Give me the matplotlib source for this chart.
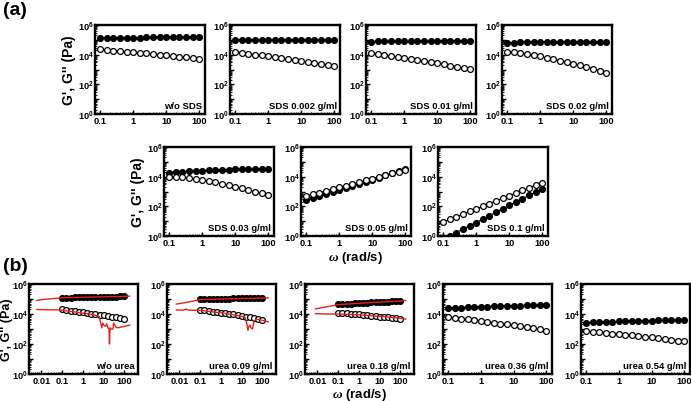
import numpy as np
import matplotlib
matplotlib.use('Agg')
import matplotlib.pyplot as plt
from matplotlib.ticker import LogLocator, NullFormatter, FixedLocator, FixedFormatter

plt.rcParams['font.family'] = ['Liberation Sans', 'DejaVu Sans']
plt.rcParams['font.weight'] = 'bold'
plt.rcParams['mathtext.fontset'] = 'custom'
plt.rcParams['mathtext.rm'] = 'Liberation Sans:bold'
plt.rcParams['mathtext.bf'] = 'Liberation Sans:bold'
plt.rcParams['mathtext.it'] = 'Liberation Serif:italic'

# frequency sweep (rad/s)
omega = [0.1, 0.158, 0.251, 0.398, 0.631, 1.0, 1.58, 2.51, 3.98, 6.31,
         10.0, 15.8, 25.1, 39.8, 63.1, 100.0]

# (a) SDS series
sds_labels = ['w/o SDS', 'SDS 0.002 g/ml', 'SDS 0.01 g/ml', 'SDS 0.02 g/ml',
              'SDS 0.03 g/ml', 'SDS 0.05 g/ml', 'SDS 0.1 g/ml']
sds_gp = [
    [1.30e5, 1.32e5, 1.34e5, 1.36e5, 1.38e5, 1.40e5, 1.42e5, 1.44e5, 1.46e5, 1.48e5, 1.50e5, 1.52e5, 1.54e5, 1.56e5, 1.58e5, 1.60e5],
    [9.5e4, 9.7e4, 9.8e4, 9.9e4, 1.0e5, 1.0e5, 1.01e5, 1.01e5, 1.02e5, 1.02e5, 1.03e5, 1.03e5, 1.04e5, 1.04e5, 1.05e5, 1.05e5],
    [7.6e4, 7.8e4, 7.9e4, 8.0e4, 8.0e4, 8.1e4, 8.1e4, 8.2e4, 8.2e4, 8.2e4, 8.3e4, 8.3e4, 8.3e4, 8.4e4, 8.4e4, 8.4e4],
    [5.8e4, 6.6e4, 6.8e4, 6.9e4, 7.0e4, 7.1e4, 7.2e4, 7.2e4, 7.3e4, 7.3e4, 7.4e4, 7.4e4, 7.5e4, 7.5e4, 7.6e4, 7.6e4],
    [1.9e4, 2.1e4, 2.2e4, 2.35e4, 2.5e4, 2.6e4, 2.7e4, 2.8e4, 2.9e4, 3.0e4, 3.1e4, 3.15e4, 3.2e4, 3.3e4, 3.35e4, 3.4e4],
    [2.5e2, 3.5e2, 4.8e2, 6.6e2, 9.1e2, 1.26e3, 1.74e3, 2.4e3, 3.3e3, 4.6e3, 6.3e3, 8.7e3, 1.2e4, 1.66e4, 2.3e4, 3.2e4],
    [0.59, 1.0, 1.7, 2.9, 4.9, 8.1, 13.8, 23, 40, 68, 115, 195, 324, 550, 933, 1585],
]
sds_gpp = [
    [2.3e4, 2.1e4, 1.9e4, 1.75e4, 1.6e4, 1.45e4, 1.3e4, 1.2e4, 1.08e4, 9.8e3, 8.9e3, 8.0e3, 7.2e3, 6.5e3, 5.9e3, 5.4e3],
    [1.6e4, 1.38e4, 1.18e4, 1.02e4, 8.8e3, 7.6e3, 6.5e3, 5.6e3, 4.8e3, 4.1e3, 3.5e3, 3.0e3, 2.6e3, 2.25e3, 1.95e3, 1.7e3],
    [1.3e4, 1.1e4, 9.4e3, 8.0e3, 6.8e3, 5.8e3, 4.9e3, 4.2e3, 3.55e3, 3.0e3, 2.55e3, 2.2e3, 1.85e3, 1.55e3, 1.3e3, 1.1e3],
    [1.6e4, 1.45e4, 1.28e4, 1.1e4, 9.2e3, 7.6e3, 6.2e3, 5.0e3, 4.0e3, 3.2e3, 2.5e3, 1.95e3, 1.5e3, 1.15e3, 8.5e2, 6.0e2],
    [1.0e4, 9.5e3, 8.8e3, 8.0e3, 7.0e3, 6.0e3, 5.0e3, 4.1e3, 3.3e3, 2.7e3, 2.1e3, 1.7e3, 1.3e3, 1.0e3, 7.5e2, 5.5e2],
    [5.0e2, 6.6e2, 8.5e2, 1.12e3, 1.48e3, 1.9e3, 2.5e3, 3.3e3, 4.3e3, 5.6e3, 7.4e3, 9.5e3, 1.26e4, 1.66e4, 2.1e4, 2.8e4],
    [8.9, 13.5, 20, 30, 46, 69, 102, 155, 234, 347, 525, 794, 1175, 1778, 2692, 3981],
]

# (b) urea series
urea_labels = ['w/o urea', 'urea 0.09 g/ml', 'urea 0.18 g/ml', 'urea 0.36 g/ml', 'urea 0.54 g/ml']
urea_gp = [
    [1.20e5, 1.22e5, 1.24e5, 1.26e5, 1.28e5, 1.30e5, 1.32e5, 1.34e5, 1.36e5, 1.38e5, 1.40e5, 1.42e5, 1.44e5, 1.46e5, 1.48e5, 1.50e5],
    [1.0e5, 1.01e5, 1.02e5, 1.03e5, 1.04e5, 1.05e5, 1.06e5, 1.07e5, 1.08e5, 1.09e5, 1.10e5, 1.11e5, 1.12e5, 1.13e5, 1.14e5, 1.15e5],
    [4.4e4, 4.6e4, 4.8e4, 5.0e4, 5.2e4, 5.4e4, 5.6e4, 5.8e4, 6.0e4, 6.2e4, 6.4e4, 6.6e4, 6.8e4, 7.0e4, 7.2e4, 7.3e4],
    [2.5e4, 2.6e4, 2.7e4, 2.8e4, 2.9e4, 3.0e4, 3.1e4, 3.2e4, 3.3e4, 3.4e4, 3.5e4, 3.6e4, 3.7e4, 3.8e4, 3.85e4, 3.9e4],
    [2.7e3, 2.8e3, 2.9e3, 3.0e3, 3.1e3, 3.2e3, 3.3e3, 3.4e3, 3.5e3, 3.55e3, 3.6e3, 3.7e3, 3.75e3, 3.8e3, 3.85e3, 3.9e3],
]
urea_gpp = [
    [2.0e4, 1.83e4, 1.67e4, 1.53e4, 1.4e4, 1.28e4, 1.17e4, 1.07e4, 9.8e3, 8.9e3, 8.2e3, 7.4e3, 6.6e3, 5.9e3, 5.2e3, 4.6e3],
    [1.9e4, 1.75e4, 1.6e4, 1.46e4, 1.34e4, 1.23e4, 1.12e4, 1.02e4, 9.3e3, 8.4e3, 7.6e3, 6.8e3, 6.0e3, 5.3e3, 4.7e3, 4.2e3],
    [1.15e4, 1.12e4, 1.08e4, 1.03e4, 9.8e3, 9.3e3, 8.8e3, 8.3e3, 7.8e3, 7.3e3, 6.8e3, 6.4e3, 6.0e3, 5.6e3, 5.3e3, 5.0e3],
    [6.3e3, 5.6e3, 5.0e3, 4.4e3, 3.9e3, 3.4e3, 3.0e3, 2.6e3, 2.3e3, 2.0e3, 1.75e3, 1.5e3, 1.3e3, 1.1e3, 9.3e2, 7.8e2],
    [7.2e2, 6.6e2, 6.0e2, 5.5e2, 5.0e2, 4.6e2, 4.2e2, 3.8e2, 3.4e2, 3.1e2, 2.8e2, 2.5e2, 2.2e2, 1.95e2, 1.7e2, 1.5e2],
]

# red curves (b, first three panels)
red_w_gp = [
    [0.006, 0.01, 0.02, 0.05, 0.1, 0.3, 1, 3, 10, 30, 100, 180],
    [0.007, 0.02, 0.05, 0.1, 1, 10, 100, 190],
    [0.008, 0.02, 0.05, 0.1, 1, 10, 100, 180],
]
red_gp = [
    [8e4, 9e4, 1.0e5, 1.1e5, 1.2e5, 1.25e5, 1.3e5, 1.35e5, 1.4e5, 1.45e5, 1.5e5, 1.55e5],
    [4.6e4, 5.8e4, 7.5e4, 9.0e4, 1.0e5, 1.08e5, 1.15e5, 1.2e5],
    [2.2e4, 2.8e4, 3.5e4, 4.2e4, 5.2e4, 6.2e4, 7.3e4, 8.0e4],
]
red_w_gpp = [
    [0.006, 0.02, 0.06, 0.1, 0.3, 1, 3, 6, 7, 8, 9, 10, 12, 14, 16, 18, 19, 20, 22, 28, 30, 40, 50, 100, 180],
    [0.007, 0.015, 0.02, 0.03, 0.1, 0.3, 1, 3, 10, 15, 18, 20, 22, 25, 28, 33, 40, 50, 100, 190],
    [0.008, 0.03, 0.1, 1, 10, 100, 180],
]
red_gpp = [
    [2.0e4, 1.9e4, 1.9e4, 1.75e4, 1.45e4, 1.15e4, 9e3, 7e3, 3e3, 1.2e3, 2.5e3, 1.8e3, 1.5e3, 2.2e3, 1.2e3, 1.0e3, 1.0e2, 1.2e3, 1.0e3, 1.0e3, 2.5e3, 1.3e3, 1.2e3, 1.5e3, 1.8e3],
    [1.85e4, 1.8e4, 2.1e4, 1.8e4, 1.75e4, 1.45e4, 1.2e4, 9.5e3, 7e3, 5.5e3, 2e3, 8e2, 1.5e3, 1.8e3, 1.2e3, 1.0e3, 3.5e3, 4.5e3, 3.8e3, 3.0e3],
    [1.05e4, 1.0e4, 1.0e4, 8.8e3, 7e3, 5.2e3, 4.6e3],
]

W, H = 691, 402
fig = plt.figure(figsize=(W / 100, H / 100), dpi=100)


def panel(x0, y0, x1, y1, gp, gpp, label, wide=False, red=None):
    ax = fig.add_axes([x0 / W, 1 - y1 / H, (x1 - x0) / W, (y1 - y0) / H])
    ax.set_xscale('log')
    ax.set_yscale('log')
    ax.plot(omega, gp, '-o', color='k', lw=0.8, ms=4.2, mfc='k', mec='k', mew=0.9, zorder=3)
    ax.plot(omega, gpp, '-o', color='k', lw=0.8, ms=4.2, mfc='white', mec='k', mew=0.9, zorder=3)
    if red is not None:
        i = red
        ax.plot(red_w_gp[i], red_gp[i], color='#e8201a', lw=1.0, zorder=4)
        ax.plot(red_w_gpp[i], red_gpp[i], color='#e8201a', lw=1.0, zorder=4)
    ax.set_ylim(1, 1e6)
    if wide:
        ax.set_xlim(0.0025, 450)
        xt = [0.01, 0.1, 1, 10, 100]
        xl = ['0.01', '0.1', '1', '10', '100']
    else:
        ax.set_xlim(0.07, 150)
        xt = [0.1, 1, 10, 100]
        xl = ['0.1', '1', '10', '100']
    ax.xaxis.set_major_locator(FixedLocator(xt))
    ax.xaxis.set_major_formatter(FixedFormatter(xl))
    ax.xaxis.set_minor_locator(LogLocator(base=10, subs=np.arange(2, 10), numticks=50))
    ax.xaxis.set_minor_formatter(NullFormatter())
    yt = [1, 10, 1e2, 1e3, 1e4, 1e5, 1e6]
    yl = [r'$\mathbf{10^{0}}$', '', r'$\mathbf{10^{2}}$', '', r'$\mathbf{10^{4}}$', '', r'$\mathbf{10^{6}}$']
    ax.yaxis.set_major_locator(FixedLocator(yt))
    ax.yaxis.set_major_formatter(FixedFormatter(yl))
    ax.yaxis.set_minor_locator(LogLocator(base=10, subs=np.arange(2, 10), numticks=50))
    ax.yaxis.set_minor_formatter(NullFormatter())
    ax.tick_params(which='major', direction='in', length=3, width=1, labelsize=6.7, pad=1.5)
    ax.tick_params(axis='y', which='major', pad=1)
    ax.tick_params(which='minor', direction='in', length=1.5, width=0.6)
    for lab in ax.get_xticklabels():
        lab.set_fontweight('bold')
    for s in ax.spines.values():
        s.set_linewidth(1.7)
    ax.text(0.97, 0.04, label, transform=ax.transAxes, ha='right', va='bottom',
            fontsize=6.8, fontweight='bold')
    return ax


ylab = "G', G'' (Pa)"
xlab = r'$\omega$ (rad/s)'


def set_ylab(ax, xpos, size=10):
    ax.set_ylabel(ylab, fontsize=size, fontweight='bold', va='center')
    ax.yaxis.set_label_coords(xpos, 0.5)


def set_xlab(ax, ypos):
    ax.set_xlabel(xlab, fontsize=9.5, fontweight='bold', va='center')
    ax.xaxis.set_label_coords(0.5, ypos)


# row 1 of (a)
for k, x0 in enumerate([95, 230, 366, 502]):
    ax = panel(x0, 26, x0 + 110, 115, sds_gp[k], sds_gpp[k], sds_labels[k])
    if k == 0:
        set_ylab(ax, -0.24)

# row 2 of (a)
for k, x0 in enumerate([164, 301, 438]):
    ax = panel(x0, 148, x0 + 110, 237, sds_gp[k + 4], sds_gpp[k + 4], sds_labels[k + 4])
    if k == 0:
        set_ylab(ax, -0.235)
    if k == 1:
        set_xlab(ax, -0.236)

# (b)
for k, x0 in enumerate([29, 167, 305, 443, 581]):
    red = k if k < 3 else None
    ax = panel(x0, 285, x0 + 109, 375, urea_gp[k], urea_gpp[k], urea_labels[k],
               wide=(k < 3), red=red)
    if k == 0:
        set_ylab(ax, -0.2, size=9)
    if k == 2:
        set_xlab(ax, -0.225)

fig.text(3 / W, 1 - 2 / H, '(a)', fontsize=14, fontweight='bold', va='top', ha='left')
fig.text(3 / W, 1 - 258 / H, '(b)', fontsize=14, fontweight='bold', va='top', ha='left')

fig.savefig('out.png', dpi=100)
